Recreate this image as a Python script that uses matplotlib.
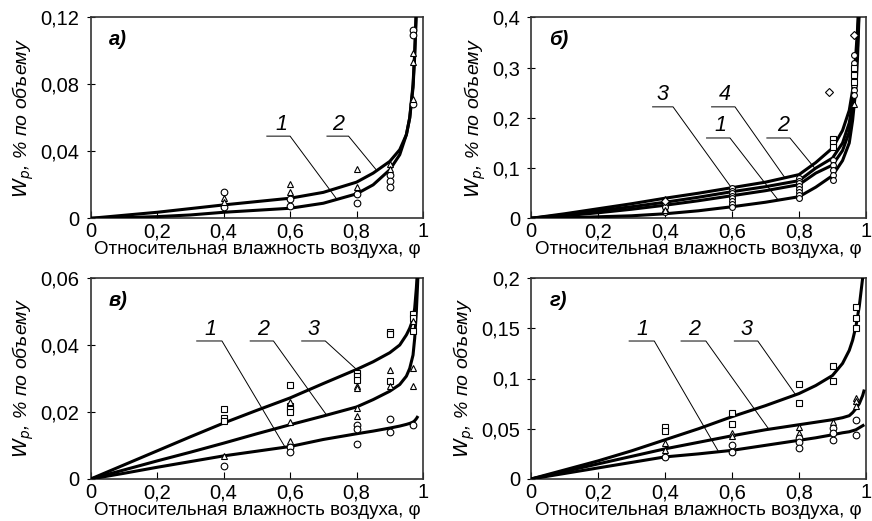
import numpy as np
import matplotlib
matplotlib.use("Agg")
import matplotlib.pyplot as plt

plt.rcParams['font.family'] = ['Liberation Sans', 'DejaVu Sans']

# ---------------- data ----------------
PHI_TICKS = [0, 0.2, 0.4, 0.6, 0.8, 1.0]
PHI_TICK_LABELS = ["0", "0,2", "0,4", "0,6", "0,8", "1"]
XLABEL = "Относительная влажность воздуха, φ"
YLABEL = r"$W_p$, % по объему"

# panel а
a_phi = [0, 0.1, 0.2, 0.3, 0.4, 0.5, 0.6, 0.7, 0.8, 0.85, 0.9, 0.93, 0.95, 0.96, 0.97, 0.975, 0.98]
a_curve1 = [0, 0.0004, 0.001, 0.002, 0.0036, 0.0048, 0.006, 0.009, 0.0146, 0.020, 0.029, 0.038, 0.050, 0.060, 0.078, 0.097, 0.125]
a_curve2 = [0, 0.0018, 0.0036, 0.0058, 0.008, 0.010, 0.012, 0.0155, 0.0216, 0.027, 0.034, 0.041, 0.050, 0.060, 0.080, 0.099, 0.125]
a_circ_x = [0.4, 0.4, 0.6, 0.6, 0.8, 0.8, 0.9, 0.9, 0.9, 0.97, 0.97, 0.97]
a_circ_y = [0.0156, 0.0066, 0.0116, 0.0074, 0.0144, 0.009, 0.0256, 0.0224, 0.019, 0.1125, 0.1095, 0.0686]
a_tri_x = [0.4, 0.4, 0.6, 0.6, 0.8, 0.8, 0.9, 0.9, 0.97, 0.97, 0.97]
a_tri_y = [0.0124, 0.0096, 0.0204, 0.0156, 0.0292, 0.0188, 0.0324, 0.0294, 0.099, 0.0934, 0.0714]
a_yticks = [0, 0.04, 0.08, 0.12]
a_ylabels = ["0", "0,04", "0,08", "0,12"]

# panel б
b_phi = [0, 0.1, 0.2, 0.3, 0.4, 0.5, 0.6, 0.7, 0.8, 0.85, 0.9, 0.93, 0.95, 0.96, 0.97, 0.975, 0.98]
b_curve4 = [0, 0.009, 0.019, 0.029, 0.040, 0.050, 0.061, 0.072, 0.087, 0.111, 0.140, 0.175, 0.215, 0.255, 0.330, 0.380, 0.450]
b_curve2 = [0, 0.007, 0.015, 0.023, 0.032, 0.042, 0.053, 0.063, 0.075, 0.100, 0.120, 0.150, 0.190, 0.230, 0.305, 0.360, 0.440]
b_curve3 = [0, 0.005, 0.011, 0.018, 0.026, 0.035, 0.045, 0.055, 0.067, 0.090, 0.106, 0.135, 0.172, 0.212, 0.285, 0.345, 0.430]
b_curve1 = [0, 0.001, 0.003, 0.005, 0.009, 0.015, 0.023, 0.032, 0.043, 0.062, 0.085, 0.115, 0.150, 0.195, 0.260, 0.325, 0.420]
b_circ_x = [0.4] * 4 + [0.6] * 8 + [0.8] * 8 + [0.9] * 5 + [0.965] * 6
b_circ_y = [0.032, 0.027, 0.022, 0.012,
            0.060, 0.055, 0.050, 0.045, 0.040, 0.034, 0.028, 0.022,
            0.080, 0.075, 0.070, 0.064, 0.058, 0.052, 0.046, 0.041,
            0.117, 0.107, 0.097, 0.087, 0.077,
            0.325, 0.310, 0.295, 0.265, 0.255, 0.245]
b_tri_x = [0.4, 0.4, 0.965]
b_tri_y = [0.038, 0.017, 0.228]
b_sq_x = [0.9, 0.9, 0.9, 0.965, 0.965, 0.965]
b_sq_y = [0.158, 0.150, 0.142, 0.300, 0.285, 0.272]
b_dia_x = [0.4, 0.89, 0.965]
b_dia_y = [0.035, 0.251, 0.365]
b_yticks = [0, 0.1, 0.2, 0.3, 0.4]
b_ylabels = ["0", "0,1", "0,2", "0,3", "0,4"]

# panel в
v_phi = [0, 0.1, 0.2, 0.3, 0.4, 0.5, 0.6, 0.7, 0.8, 0.85, 0.9, 0.93, 0.95, 0.96, 0.97, 0.975, 0.98, 0.985, 0.99]
v_curve3 = [0, 0.0042, 0.0084, 0.0126, 0.0167, 0.0205, 0.0242, 0.0285, 0.0327, 0.035, 0.0377, 0.040, 0.043, 0.045, 0.0477, 0.051, 0.057, 0.065, 0.072]
v_curve2 = [0, 0.0027, 0.0054, 0.008, 0.0107, 0.0135, 0.0162, 0.0188, 0.0215, 0.0237, 0.0262, 0.0282, 0.0307, 0.033, 0.037, 0.042, 0.050, 0.061, 0.070]
v_phi1 = [0, 0.1, 0.2, 0.3, 0.4, 0.5, 0.6, 0.7, 0.8, 0.85, 0.9, 0.93, 0.95, 0.96, 0.97, 0.975, 0.98, 0.985]
v_curve1 = [0, 0.0017, 0.0035, 0.0052, 0.0069, 0.0083, 0.0097, 0.0118, 0.0135, 0.0143, 0.0152, 0.0158, 0.0163, 0.0166, 0.0170, 0.0174, 0.0180, 0.0188]
v_sq_x = [0.4, 0.4, 0.4, 0.6, 0.6, 0.6, 0.6, 0.8, 0.8, 0.8, 0.9, 0.9, 0.9, 0.97, 0.97, 0.97]
v_sq_y = [0.0209, 0.0182, 0.0172, 0.0282, 0.0217, 0.0209, 0.0199, 0.0317, 0.0307, 0.0297, 0.0439, 0.0432, 0.0292, 0.0492, 0.0482, 0.0442]
v_tri_x = [0.4, 0.6, 0.6, 0.6, 0.8, 0.8, 0.8, 0.8, 0.9, 0.9, 0.97, 0.97, 0.97]
v_tri_y = [0.0070, 0.0229, 0.0169, 0.0112, 0.0277, 0.0272, 0.0212, 0.0189, 0.0325, 0.0279, 0.0472, 0.0330, 0.0279]
v_circ_x = [0.4, 0.6, 0.6, 0.8, 0.8, 0.8, 0.9, 0.9, 0.97]
v_circ_y = [0.0040, 0.0097, 0.0082, 0.0160, 0.0150, 0.0105, 0.0179, 0.0141, 0.0160]
v_yticks = [0, 0.02, 0.04, 0.06]
v_ylabels = ["0", "0,02", "0,04", "0,06"]

# panel г
g_phi = [0, 0.1, 0.2, 0.3, 0.4, 0.5, 0.6, 0.7, 0.8, 0.85, 0.9, 0.93, 0.95, 0.96, 0.97, 0.98, 0.99, 0.995]
g_curve3 = [0, 0.009, 0.018, 0.028, 0.039, 0.050, 0.062, 0.073, 0.085, 0.093, 0.103, 0.115, 0.128, 0.138, 0.152, 0.172, 0.200, 0.215]
g_curve2 = [0, 0.0075, 0.015, 0.0225, 0.030, 0.0365, 0.043, 0.049, 0.054, 0.0565, 0.059, 0.061, 0.063, 0.066, 0.070, 0.075, 0.083, 0.089]
g_curve1 = [0, 0.0055, 0.011, 0.0165, 0.022, 0.025, 0.0285, 0.0335, 0.0385, 0.041, 0.044, 0.046, 0.047, 0.048, 0.049, 0.051, 0.053, 0.054]
g_sq_x = [0.4, 0.4, 0.6, 0.6, 0.8, 0.8, 0.9, 0.9, 0.97, 0.97, 0.97]
g_sq_y = [0.0522, 0.0481, 0.0657, 0.0549, 0.0943, 0.0758, 0.1120, 0.0973, 0.1707, 0.1606, 0.1505]
g_tri_x = [0.4, 0.4, 0.6, 0.6, 0.8, 0.8, 0.9, 0.97, 0.97, 0.97]
g_tri_y = [0.0360, 0.0286, 0.0455, 0.0431, 0.0522, 0.0455, 0.0572, 0.0808, 0.0774, 0.0731]
g_circ_x = [0.4, 0.6, 0.6, 0.8, 0.8, 0.8, 0.9, 0.9, 0.9, 0.97, 0.97]
g_circ_y = [0.0219, 0.0337, 0.0269, 0.0411, 0.0370, 0.0313, 0.0505, 0.0455, 0.0387, 0.0589, 0.0438]
g_yticks = [0, 0.05, 0.1, 0.15, 0.2]
g_ylabels = ["0", "0,05", "0,1", "0,15", "0,2"]

# ---------------- drawing ----------------
fig = plt.figure(figsize=(8.72, 5.21), dpi=100)

W, H = 872.0, 521.0
def place(left, top, right, bottom):
    return [left / W, 1 - bottom / H, (right - left) / W, (bottom - top) / H]

ax_a = fig.add_axes(place(90.7, 17.5, 423, 218.3))
ax_b = fig.add_axes(place(531, 17.5, 866, 218.3))
ax_v = fig.add_axes(place(90.7, 278, 423, 479))
ax_g = fig.add_axes(place(531, 278, 866, 479))

CURVE_KW = dict(color="black", lw=2.2, solid_capstyle="butt", zorder=3)
MK = dict(linestyle="none", mfc="white", mec="black", mew=0.8, zorder=4)
TICK_FS = 14.5
XLABEL_FS = 13.5
YLABEL_FS = 14


def style_axes(ax, yticks, ylabels, letter):
    ax.set_xlim(0, 1)
    ax.set_ylim(yticks[0], yticks[-1])
    ax.set_xticks(PHI_TICKS)
    ax.set_xticklabels(PHI_TICK_LABELS)
    ax.set_yticks(yticks)
    ax.set_yticklabels(ylabels)
    ax.tick_params(axis="x", direction="in", length=5, width=0.8, labelsize=TICK_FS, pad=3)
    ax.tick_params(axis="y", direction="inout", length=6, width=0.8, labelsize=TICK_FS, pad=5)
    for s in ax.spines.values():
        s.set_linewidth(1.2)
        s.set_color("#333333")
    ax.set_xlabel(XLABEL, fontsize=XLABEL_FS, labelpad=0)
    ax.set_ylabel(YLABEL, fontsize=YLABEL_FS, style="italic", labelpad=3)
    ax.text(0.055, 0.89, letter, transform=ax.transAxes, fontsize=14.5,
            fontweight="bold", style="italic", ha="left", va="center")


def leader(ax, label, text_xy, ux0, ux1, uy, phi_end, phi, curve):
    y_end = float(np.interp(phi_end, phi, curve))
    ax.plot([ux0, ux1, phi_end], [uy, uy, y_end], color="black", lw=0.7, zorder=2)
    ax.text(text_xy[0], text_xy[1], label, fontsize=15.5, style="italic",
            ha="center", va="bottom")


# а
ax = ax_a
ax.plot(a_phi, a_curve1, **CURVE_KW)
ax.plot(a_phi, a_curve2, **CURVE_KW)
ax.plot(a_circ_x, a_circ_y, marker="o", ms=4.8, **MK)
ax.plot(a_tri_x, a_tri_y, marker="^", ms=4.8, **MK)
style_axes(ax, a_yticks, a_ylabels, "а)")
leader(ax, "1", (0.575, 0.0498), 0.53, 0.60, 0.0491, 0.741, a_phi, a_curve1)
leader(ax, "2", (0.745, 0.0498), 0.711, 0.776, 0.0491, 0.861, a_phi, a_curve2)

# б
ax = ax_b
for c in (b_curve4, b_curve2, b_curve3, b_curve1):
    ax.plot(b_phi, c, **CURVE_KW)
ax.plot(b_circ_x, b_circ_y, marker="o", ms=4.2, **MK)
ax.plot(b_tri_x, b_tri_y, marker="^", ms=4.2, **MK)
ax.plot(b_sq_x, b_sq_y, marker="s", ms=3.7, **MK)
ax.plot(b_dia_x, b_dia_y, marker="D", ms=3.7, **MK)
style_axes(ax, b_yticks, b_ylabels, "б)")
leader(ax, "3", (0.393, 0.225), 0.363, 0.424, 0.222, 0.614, b_phi, b_curve3)
leader(ax, "4", (0.579, 0.225), 0.539, 0.609, 0.222, 0.758, b_phi, b_curve4)
leader(ax, "1", (0.564, 0.163), 0.524, 0.594, 0.160, 0.738, b_phi, b_curve1)
leader(ax, "2", (0.753, 0.163), 0.704, 0.773, 0.160, 0.848, b_phi, b_curve2)

# в
ax = ax_v
ax.plot(v_phi, v_curve3, **CURVE_KW)
ax.plot(v_phi, v_curve2, **CURVE_KW)
ax.plot(v_phi1, v_curve1, **CURVE_KW)
ax.plot(v_sq_x, v_sq_y, marker="s", ms=4.2, **MK)
ax.plot(v_tri_x, v_tri_y, marker="^", ms=4.8, **MK)
ax.plot(v_circ_x, v_circ_y, marker="o", ms=4.8, **MK)
style_axes(ax, v_yticks, v_ylabels, "в)")
leader(ax, "1", (0.359, 0.0415), 0.319, 0.395, 0.0412, 0.585, v_phi1, v_curve1)
leader(ax, "2", (0.52, 0.0415), 0.48, 0.55, 0.0412, 0.71, v_phi, v_curve2)
leader(ax, "3", (0.67, 0.0415), 0.635, 0.706, 0.0412, 0.80, v_phi, v_curve3)

# г
ax = ax_g
for c in (g_curve3, g_curve2, g_curve1):
    ax.plot(g_phi, c, **CURVE_KW)
ax.plot(g_sq_x, g_sq_y, marker="s", ms=4.2, **MK)
ax.plot(g_tri_x, g_tri_y, marker="^", ms=4.8, **MK)
ax.plot(g_circ_x, g_circ_y, marker="o", ms=4.8, **MK)
style_axes(ax, g_yticks, g_ylabels, "г)")
leader(ax, "1", (0.333, 0.138), 0.293, 0.368, 0.1373, 0.56, g_phi, g_curve1)
leader(ax, "2", (0.487, 0.138), 0.448, 0.522, 0.1373, 0.71, g_phi, g_curve2)
leader(ax, "3", (0.642, 0.138), 0.607, 0.677, 0.1373, 0.79, g_phi, g_curve3)

fig.savefig("out.png", dpi=100)
